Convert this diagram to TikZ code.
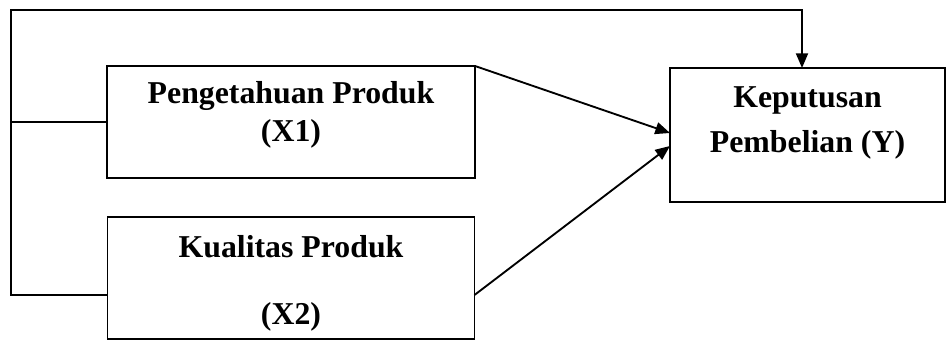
\documentclass[tikz,border=0pt]{standalone}
\usepackage{fontspec}
\setmainfont{Liberation Serif}
\usetikzlibrary{arrows.meta,positioning,calc}

\begin{document}
\begin{tikzpicture}[
    x=0.75pt, y=-0.75pt,
    line width=1.4pt,
    >={Triangle[length=11pt,width=9pt]},
    var/.style={rectangle, draw, line width=1.4pt, outer sep=0pt},
    lbl/.style={align=center, inner sep=0pt, font=\fontsize{23.85}{28.5}\selectfont\bfseries}
]
\useasboundingbox (0,0) rectangle (947,342);

\node[var, minimum width=276pt, minimum height=84pt] (x1) at (291,122) {};
\node[var, minimum width=275.25pt, minimum height=91.5pt, below=29.25pt of x1] (x2) {};
\node[var, minimum width=206.25pt, minimum height=100.5pt] (y) at (807.5,135) {};

\node[lbl] (x1t) at ($(x1)+(0,-7)$) {Pengetahuan Produk\\(X1)};
\node[lbl] (x2t) at ($(x2)+(0,5.5)$) {Kualitas Produk\\[21.75pt](X2)};
\node[lbl] (yt) at ($(y)+(0,-12)$) {Keputusan\\[5.25pt]Pembelian (Y)};

\coordinate (tl) at (11,10);
\coordinate (bl) at (11,295);
\coordinate (tr) at (802,10);

\draw (x1.west) -- (x1.west -| tl);
\draw[->] (x2.west |- bl) -- (bl) -- (tl) -- (tr) -- (tr |- y.north);
\draw[->] (x1.north east) -- ($(y.west)+(0,-2)$);
\draw[->] (x2.east |- bl) -- ($(y.west)+(0,11)$);

\end{tikzpicture}
\end{document}
